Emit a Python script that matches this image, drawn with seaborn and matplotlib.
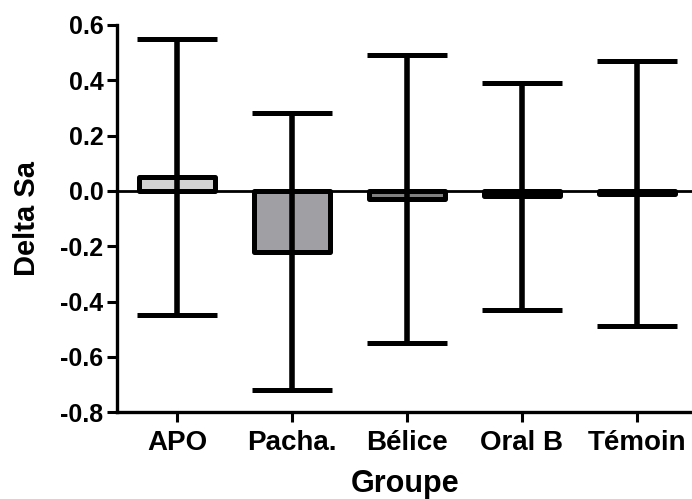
import matplotlib
matplotlib.use("Agg")
import matplotlib.pyplot as plt
import seaborn as sns
import pandas as pd
import numpy as np

# values
groupes = ["APO", "Pacha.", "Bélice", "Oral B", "Témoin"]
delta_sa = [0.05, -0.22, -0.03, -0.02, -0.01]
erreur = [0.50, 0.50, 0.52, 0.41, 0.48]
couleurs = ["#d3d3d3", "#a0a0a4", "#808080", "#ffffff", "#ffffff"]
yticks = [-0.8, -0.6, -0.4, -0.2, 0.0, 0.2, 0.4, 0.6]

sns.set_style("ticks")
plt.rcParams["font.family"] = ["Liberation Sans", "DejaVu Sans"]
plt.rcParams["font.weight"] = "bold"
for k in ["text.color", "axes.labelcolor", "xtick.color", "ytick.color", "axes.edgecolor"]:
    plt.rcParams[k] = "black"

df = pd.DataFrame({"Groupe": groupes, "Delta Sa": delta_sa})

fig = plt.figure(figsize=(6.92, 4.99), dpi=100)
ax = fig.add_axes([0.1695, 0.174, 0.8305, 0.776])

sns.barplot(data=df, x="Groupe", y="Delta Sa", hue="Groupe", palette=couleurs,
            legend=False, errorbar=None, width=0.66, edgecolor="black",
            linewidth=3.6, ax=ax)
for p in ax.patches:
    p.set_joinstyle("round")

ax.errorbar(np.arange(len(groupes)), delta_sa, yerr=erreur, fmt="none",
            ecolor="black", elinewidth=4, capsize=29, capthick=3.6, zorder=5)

ax.axhline(0, color="black", linewidth=2.0, zorder=4)

ax.set_xlim(-0.52, 4.48)
ax.set_ylim(-0.8, 0.6)
ax.set_yticks(yticks)
ax.set_yticklabels([f"{v:.1f}" for v in yticks])
ax.spines["top"].set_visible(False)
ax.spines["right"].set_visible(False)
ax.spines["left"].set_linewidth(2.4)
ax.spines["bottom"].set_linewidth(2.4)
ax.tick_params(axis="y", width=2.2, length=7.5, labelsize=18, pad=2.5)
ax.tick_params(axis="x", width=2.2, length=7, labelsize=20, pad=6)
for lbl in ax.get_xticklabels() + ax.get_yticklabels():
    lbl.set_fontweight("bold")
ax.set_xlabel("Groupe", fontsize=22, fontweight="bold", labelpad=9)
ax.set_ylabel("Delta Sa", fontsize=21, fontweight="bold", labelpad=14)

fig.savefig("out.png", dpi=100)
